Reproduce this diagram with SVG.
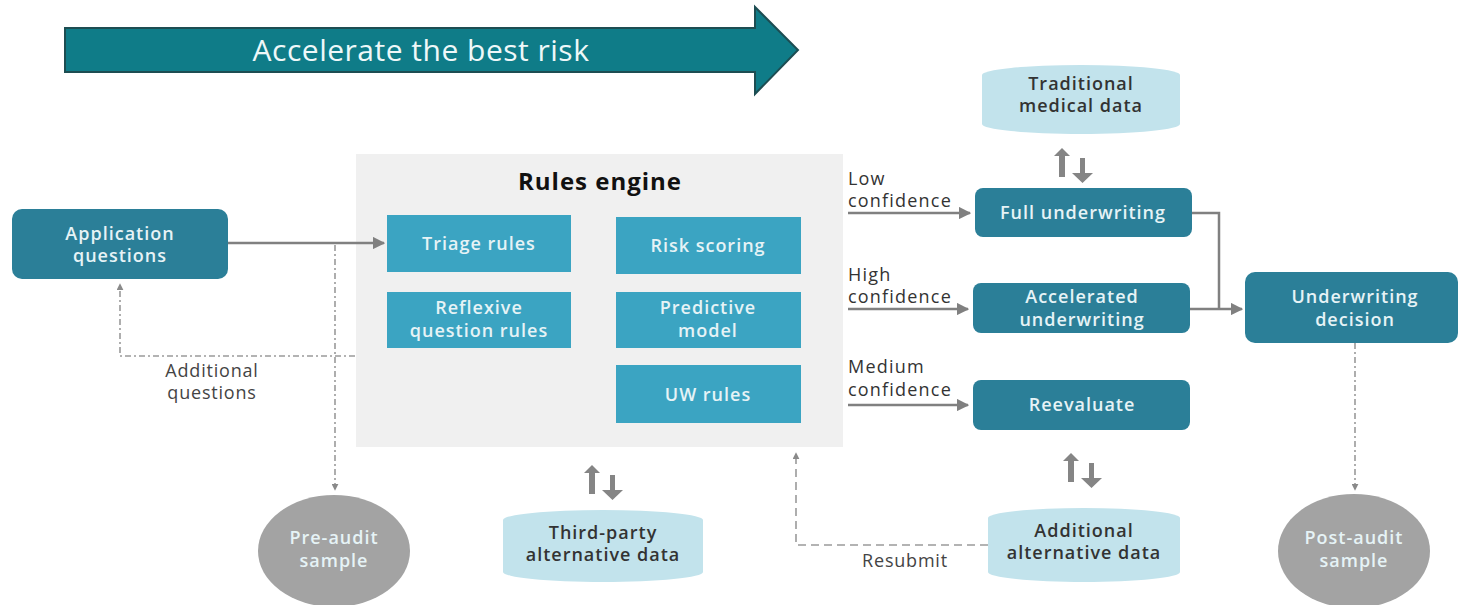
<svg xmlns="http://www.w3.org/2000/svg" width="1458" height="605" viewBox="0 0 1458 605">
<defs>
<style>
.t{font-family:"Open Sans","Liberation Sans",sans-serif;}
.dk{fill:#2b7f98;}
.lt{fill:#3ba4c2;}
.cyl{fill:#c2e3ec;}
.wt{fill:#e6f3f6;font-weight:600;font-size:18px;letter-spacing:1px;text-anchor:middle;}
.bt{fill:#333;font-weight:600;font-size:18px;letter-spacing:1px;text-anchor:middle;}
.gt{fill:#444;font-weight:500;font-size:18px;letter-spacing:0.8px;text-anchor:middle;}
.lb{fill:#333;font-size:18px;letter-spacing:1.2px;}
.ln{fill:none;stroke:#808080;stroke-width:2.5;}
.dd{fill:none;stroke:#9a9a9a;stroke-width:1.6;stroke-dasharray:6 3 2 3;}
.ds{fill:none;stroke:#9a9a9a;stroke-width:1.6;stroke-dasharray:8 5;}
.circ{fill:#a3a3a3;}
</style>
<marker id="ah" viewBox="0 0 10 10" refX="9" refY="5" markerWidth="5" markerHeight="5" orient="auto"><path d="M0,0 L10,5 L0,10 Z" fill="#808080"/></marker>
<marker id="ahs" viewBox="0 0 10 10" refX="9" refY="5" markerWidth="7" markerHeight="7" orient="auto" markerUnits="userSpaceOnUse"><path d="M0,0 L10,5 L0,10 Z" fill="#8a8a8a"/></marker>
<g id="dbl"><path d="M8,0 L16,8 L11,8 L11,29 L5,29 L5,8 L0,8 Z M26,10 L31,10 L31,25 L39,25 L28.5,35 L18,25 L26,25 Z" fill="#858585"/></g>
</defs>
<rect width="1458" height="605" fill="#ffffff"/>

<g id="banner">
<path d="M65,28 L755,28 L755,7 L798,50 L755,94 L755,72 L65,72 Z" fill="#0f7c88" stroke="#1d4d52" stroke-width="2"/>
<text class="t" x="421" y="61" font-size="30" letter-spacing="0.5" fill="#eef8f9" text-anchor="middle">Accelerate the best risk</text>
</g>

<g id="rules-engine">
<rect x="356" y="154" width="487" height="293" fill="#f0f0f0"/>
<text class="t" x="600" y="190" font-size="24" font-weight="700" letter-spacing="1" fill="#111" text-anchor="middle">Rules engine</text>
</g>

<g id="connectors">
<line class="ln" x1="228" y1="243" x2="384" y2="243" marker-end="url(#ah)"/>
<line class="ln" x1="848" y1="213" x2="970" y2="213" marker-end="url(#ah)"/>
<line class="ln" x1="848" y1="309" x2="968" y2="309" marker-end="url(#ah)"/>
<line class="ln" x1="848" y1="405" x2="968" y2="405" marker-end="url(#ah)"/>
<path class="ln" d="M1192,213 L1219,213 L1219,309"/>
<line class="ln" x1="1190" y1="309" x2="1242" y2="309" marker-end="url(#ah)"/>
<path class="dd" d="M335,245 L335,490" marker-end="url(#ahs)"/>
<path class="dd" d="M355,356 L120,356 L120,284" marker-end="url(#ahs)"/>
<path class="dd" d="M1355,343 L1355,490" marker-end="url(#ahs)"/>
<path class="ds" d="M988,545 L796,545 L796,453" marker-end="url(#ahs)"/>
<use href="#dbl" x="1054" y="148"/>
<use href="#dbl" x="584" y="465"/>
<use href="#dbl" x="1063" y="453"/>
</g>

<g id="labels">
<text class="t lb" x="848" y="185">Low</text>
<text class="t lb" x="848" y="207">confidence</text>
<text class="t lb" x="848" y="281">High</text>
<text class="t lb" x="848" y="303">confidence</text>
<text class="t lb" x="848" y="373">Medium</text>
<text class="t lb" x="848" y="396">confidence</text>
<text class="t gt" x="212" y="377">Additional</text>
<text class="t gt" x="212" y="399">questions</text>
<text class="t gt" x="905" y="567">Resubmit</text>
</g>

<g id="application-questions">
<rect class="dk" x="12" y="209" width="216" height="70" rx="10"/>
<text class="t wt" x="120" y="240">Application</text>
<text class="t wt" x="120" y="262">questions</text>
</g>

<g id="triage-rules">
<rect class="lt" x="387" y="215" width="184" height="57"/>
<text class="t wt" x="479" y="250">Triage rules</text>
</g>
<g id="reflexive-question-rules">
<rect class="lt" x="387" y="292" width="184" height="56"/>
<text class="t wt" x="479" y="314">Reflexive</text>
<text class="t wt" x="479" y="337">question rules</text>
</g>
<g id="risk-scoring">
<rect class="lt" x="616" y="217" width="185" height="57"/>
<text class="t wt" x="708" y="252">Risk scoring</text>
</g>
<g id="predictive-model">
<rect class="lt" x="616" y="292" width="185" height="56"/>
<text class="t wt" x="708" y="314">Predictive</text>
<text class="t wt" x="708" y="337">model</text>
</g>
<g id="uw-rules">
<rect class="lt" x="616" y="365" width="185" height="58"/>
<text class="t wt" x="708" y="401">UW rules</text>
</g>

<g id="traditional-medical-data">
<path class="cyl" d="M982,75 A99,10 0 0 1 1180,75 L1180,124 A99,10 0 0 1 982,124 Z"/>
<text class="t bt" x="1081" y="90">Traditional</text>
<text class="t bt" x="1081" y="112">medical data</text>
</g>

<g id="full-underwriting">
<rect class="dk" x="975" y="188" width="217" height="49" rx="8"/>
<text class="t wt" x="1083" y="219">Full underwriting</text>
</g>
<g id="accelerated-underwriting">
<rect class="dk" x="973" y="283" width="217" height="50" rx="8"/>
<text class="t wt" x="1082" y="303">Accelerated</text>
<text class="t wt" x="1082" y="326">underwriting</text>
</g>
<g id="reevaluate">
<rect class="dk" x="973" y="380" width="217" height="50" rx="8"/>
<text class="t wt" x="1082" y="411">Reevaluate</text>
</g>

<g id="underwriting-decision">
<rect class="dk" x="1245" y="272" width="213" height="71" rx="10"/>
<text class="t wt" x="1355" y="303">Underwriting</text>
<text class="t wt" x="1355" y="326">decision</text>
</g>

<g id="pre-audit-sample">
<ellipse class="circ" cx="334" cy="551" rx="76" ry="56"/>
<text class="t wt" x="334" y="544" fill="#eeeeee">Pre-audit</text>
<text class="t wt" x="334" y="567" fill="#eeeeee">sample</text>
</g>

<g id="third-party-alternative-data">
<path class="cyl" d="M503,520 A100,10 0 0 1 703,520 L703,572 A100,10 0 0 1 503,572 Z"/>
<text class="t bt" x="603" y="539">Third-party</text>
<text class="t bt" x="603" y="561">alternative data</text>
</g>

<g id="additional-alternative-data">
<path class="cyl" d="M988,518 A96,10 0 0 1 1180,518 L1180,572 A96,10 0 0 1 988,572 Z"/>
<text class="t bt" x="1084" y="537">Additional</text>
<text class="t bt" x="1084" y="559">alternative data</text>
</g>

<g id="post-audit-sample">
<ellipse class="circ" cx="1354" cy="551" rx="76" ry="57"/>
<text class="t wt" x="1354" y="544" fill="#eeeeee">Post-audit</text>
<text class="t wt" x="1354" y="567" fill="#eeeeee">sample</text>
</g>
</svg>
